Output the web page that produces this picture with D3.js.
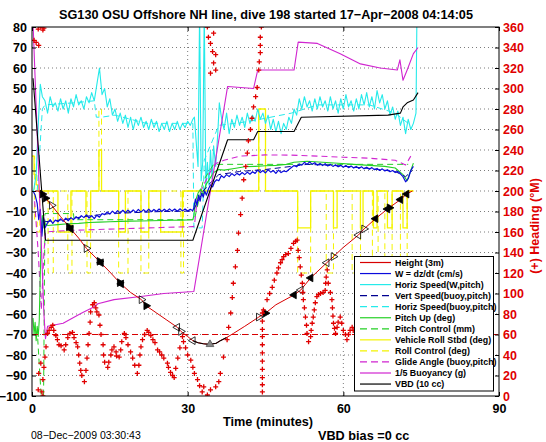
<!DOCTYPE html>
<html><head><meta charset="utf-8">
<script src="https://cdn.jsdelivr.net/npm/d3@7"></script>
<style>
body{margin:0;background:#fff}
svg{display:block}
text{font-family:"Liberation Sans",Arial,Helvetica,sans-serif}
</style>
</head><body>
<svg id="c" width="546" height="442"></svg>
<script>
// ---------- text / ticks ----------
const titleText = "SG130 OSU Offshore NH line, dive 198 started 17\u2212Apr\u22122008 04:14:05";
const xLabel = "Time (minutes)";
const yRightLabel = "(+) Heading (\u00B0M)";
const footerDate = "08\u2212Dec\u22122009 03:30:43";
const footerVbd = "VBD bias =0 cc";
const xTicks = [0, 30, 60, 90];
const yTicks = [-100,-90,-80,-70,-60,-50,-40,-30,-20,-10,0,10,20,30,40,50,60,70,80];
const hTicks = [0,20,40,60,80,100,120,140,160,180,200,220,240,260,280,300,320,340,360];
const legendNames = ["Height (3m)","W = dz/dt (cm/s)","Horiz Speed(W,pitch)","Vert Speed(buoy,pitch)",
  "Horiz Speed(buoy,pitch)","Pitch Up (deg)","Pitch Control (mm)","Vehicle Roll Stbd (deg)",
  "Roll Control (deg)","Glide Angle (buoy,pitch)","1/5 Buoyancy (g)","VBD (10 cc)"];

// ---------- series ----------
// Height (3m)
const heightT = [0.6,1.2,2.0,2.6,3.8,5.5,7.3,9,10.5,13.1,15,17,19,21.1,22,24,26,28,28.7,30,31,32,33,34.2,35.5,36.3,37.5,38.8,41,43.7,45,47,50.5,51.8,53.7,56.8,58.1,60,62.9,64,66.2,68.7,71,72.2,73.3];
const heightV = [0,0,-1.5,-3.5,-7,-12.5,-18,-23,-28,-34.6,-39.5,-45,-49.5,-53,-56,-59.5,-63,-66.5,-68.5,-71,-73,-74,-74.5,-74.8,-74.3,-73,-71.5,-69.5,-66,-61.5,-59.6,-55.5,-50.7,-48.3,-42.4,-35,-32,-27.5,-21.5,-18.5,-13.5,-8.4,-4.2,-1.5,0];
const apogeeT = [31,32,33,34.2,35.5,36.3,37.5];
const apogeeV = [-73,-74,-74.5,-74.8,-74.3,-73,-71.5];
const markT = [2.0,2.6,3.8,7.1,7.5,10.5,13.0,13.3,16.9,17.2,21.1,22.0,28.0,28.7,31.0,34.3,43.7,45.0,50.5,51.8,53.7,56.8,58.1,62.9,64.0,66.2,68.5,68.9,71.0,72.2];
const markV = [-1.5,-3.5,-7,-17.5,-18.5,-28,-34.3,-35,-44.7,-45.3,-53,-56,-66.5,-68.5,-73,-74.8,-61.5,-59.6,-50.7,-48.3,-42.4,-35,-32,-21.5,-18.5,-13.5,-8.8,-8.2,-4.2,-1.5];
const markDir = ["r","r","r","r","l","r","r","l","r","l","r","r","l","r","l","u","r","r","l","l","l","l","r","l","r","l","l","r","l","l"];
const markFill = [1,1,0,1,1,0,1,1,1,1,0,1,0,0,0,2,0,1,1,0,1,0,0,0,0,1,1,1,1,1];
const targetDepth = -70;

// W = dz/dt
const wT = [0.2,0.6,1.0,1.3,1.6,1.9,2.2,2.5].concat(d3.range(3,31.01,0.5),
  [31.2,31.5,31.8,32.1,32.4,32.7,33,33.3,33.6,34,34.4,34.8,35.2,35.6], d3.range(36,73.51,0.5));
const wV = [0,-2,-6,-14,-9,-22,-13,-18,
  -15.5,-14,-15.8,-14.2,-15,-13.6,-14.8,-13.2,-14.5,-13,-14,-12.5,-13.6,-12,-13,-11.6,-13.2,-12,-13.5,-11.8,-12.8,-11,-11.5,-10.2,-11.3,-9.8,-11,-9.6,-10.8,-9.4,-10.6,-9.3,-10.5,-9.2,-10.4,-9,-10.3,-9.1,-10.2,-8.9,-10.1,-9,-10,-8.8,-10,-8.9,-9.9,-8.7,-9.8,-8.8,-9.9,-8.7,-9.7,-8.8,-9.8,-8.9,-9.6,
  -8,-4,-7,-2,-5,-1,-3,0,-2,1,3,2,4.5,5.5,
  5,7.5,6.5,8,7,8.5,7.5,8.6,7.8,9,8,9.2,8.2,9.4,8.6,10.2,9,10,8.8,10.4,9.2,10,8.6,10.2,9,9.8,9.4,10.5,11.5,12.4,11.8,13.2,12.6,14,13,14.2,13,13.8,12.6,13.4,12.4,13.3,12.2,13,12,12.8,11.8,12.6,11.6,12.4,11.4,12.2,11.2,12,11,11.8,10.8,11.6,10.6,11.4,10.4,11,10,10.8,9.8,10.4,9.4,10,9,9.6,8.4,7,4.5,6,10,12];

// Horiz Speed (W,pitch)
const hsT = [0.3,0.8,1.2,1.6,2.0].concat(d3.range(2.5,31.01,0.5),
  [31.3,31.7,32.0,32.3,32.6,32.9,33.2,33.5,33.8,34.1,34.4,34.7,35.0,35.4,35.8,36.1], d3.range(36.5,73.51,0.5), [74.0,74.2]);
const hsV = [0,8,32,52,46,
  44,38,46,41,43,39,45,40,44,38,45,41,47,42,44,40,46,43,48,44,52,60,47,50,41,45,37,40,34,38,33,37,31,36,30,35,32,36,31,34,30,35,31,34,29,33,30,34,29,33,30,34,30,33,31,34,32,35,
  36,22,12,88,5,14,88,1,14,3,20,6,22,12,28,43,
  36,30,38,28,35,31,37,32,36,31,38,33,37,34,40,35,38,33,37,30,35,29,34,28,33,30,36,33,40,37,45,40,46,41,44,39,45,40,46,41,44,39,46,40,44,38,45,40,47,41,44,39,45,40,47,42,48,41,46,40,49,43,47,40,44,37,41,35,39,32,36,28,35,30,33,
  38,90];

// Vert Speed (buoy,pitch)
const vsT = [2.5,6,10,15,20,25,31,32,33,34,36,40,45,50,53,58,65,70,72,73.3];
const vsV = [-15,-14,-12.5,-11,-10.5,-10,-9.8,-5,0,3,8,9.5,10.5,12,13,12.5,11,9.5,7,10];

// Horiz Speed (buoy,pitch)
const hbT = [1.0,2.0,2.5,8,12,12.4,13.4,16,22,31.0,31.2,32.8,33.2,36,42,50,55,65,70,72.5];
const hbV = [0,40,42,43,44,36,36,37,33,33,-18,-18,15,32,34,38,42,42,38,33];

// Pitch Up (deg)
const pitchT = [0.2,0.4,0.6,0.8,1.0,1.2,1.4,1.6,1.8,2.0,2.3,2.6,3,5,7,9,11,13,15,17,19,21,23,25,27,29,31,31.2,31.5,32,32.5,33,33.5,34,35,36,37,39,41,43,45,47,49,50.5,53,56,59,62,65,68,70,71.5,72.3,73,73.5];
const pitchV = [-62,-70,-64,-73,-66,-71,-63,-40,-20,-12,-18,-16,-16.8,-16.4,-16,-15.8,-15.4,-15.2,-15,-14.8,-14.7,-14.6,-14.5,-14.4,-14.3,-14.2,-14,-12,-5,-1,1,-2,3,5,9,10.5,10.2,11,11.8,12,12.3,12.5,13,14,14.5,14,13.5,13,12.5,12,11.2,8,5,10,13.6];

// Pitch Control (mm)
const pcT = [1.1,2.0,2.2,2.5,8,8.1,31,31.3,33,35,72,72.5];
const pcV = [-72,-110,-110,-11,-11,-14,-14,-14,5,13,13,13];

// Vehicle Roll Stbd (deg) - step
const rollT = [0,0.4,0.8,1.2,5,7.5,10.4,11.3,12.9,13.4,16.7,18,21,22.5,24.8,29,43.7,45,51.2,53.7,58.1,58.8,63.3,63.8,65.8,66.5,68.5,69.4,71.5,72.3,73.5];
const rollV = [17,8,3,0,-20,0,-20,0,20,0,-20,0,-20,0,-20,0,40,0,-18,0,-18,0,-18,0,-18,0,-18,0,-18,0,0];

// Roll Control (deg) - step
const rcT = [0,0.5,1.0,1.5,3.1,4.1,6.9,7.7,10.6,11.3,12.9,13.4,16.7,18.5,21,22.5,28.7,29.2,43.7,45,51.2,53.7,56.7,58.1,61.7,63.3,65.6,66.7,68,69.4,71,72.3,73.5];
const rcV = [17,-15,-20,0,-40,0,-40,0,-40,0,40,0,-40,0,-40,0,-40,0,40,0,-40,0,-40,0,-40,0,-40,0,-40,0,-40,0,0];

// Glide Angle (buoy,pitch)
const glideT = [0.5,1.2,1.8,2.3,2.6,5,10,15,20,25,31,31.3,31.8,32.5,33.5,34.5,35.5,37,40,45,50,55,60,65,70,72,73];
const glideV = [-5,-30,-58,-30,-20,-19.5,-19,-18.6,-18.2,-17.8,-17.4,-17,-5,0,5,10,13.5,15,17,17.6,17.5,17,16.5,16,15,12.7,17];

// 1/5 Buoyancy (g)
const buoyT = [0.2,2.3,2.6,3.0,6,9.5,12,12.7,15.8,21,25.4,31.2,37.7,42.7,43.5,50.5,51.3,55,59.4,63.3,67.1,70.4,70.9,71.5,72.3,73.5,74.4];
const buoyV = [82,-60,-72,-66,-64.5,-59.6,-56.5,-55,-53,-51.5,-50,-49,51,50,59,59,72.6,72,67,62,60,59,64,54,59,67,70];

// VBD (10 cc)
const vbdT = [0.2,2.6,31.0,37.7,42.7,43.5,50.5,51.9,68.6,71,71.5,72.3,73.5,74.4];
const vbdV = [55,-24,-24,25,25,29,29,36,37,38,41,43,44.4,48];

// Heading (deg, right axis)
const hdT = [0.4,0.8,1.3,1.2,1.7,2.1,2.3,1.7,1.3,2.1,1.2,2.1,1.9,2.3,2.5,2.7,3.0,3.3,3.7,4.0,4.2,4.6,4.9,5.2,5.6,6.2,6.5,6.9,7.3,7.8,8.1,8.5,8.8,9.0,9.2,9.4,9.6,10.1,10.4,10.6,10.8,11.0,11.2,11.3,11.7,12.0,12.3,12.5,12.9,13.1,13.3,13.7,13.8,14.0,14.6,14.8,15.2,15.4,15.8,16.2,16.3,16.8,17.1,17.3,17.8,18.1,18.5,19.0,19.4,19.8,20.3,20.6,20.8,21.0,21.3,21.7,22.2,22.5,22.9,23.3,23.7,24.2,24.6,25.0,25.4,26.1,26.3,26.7,27.1,27.4,27.7,28.1,28.5,29.0,29.2,29.6,30.0,30.6,31.0,31.3,31.9,32.3,32.8,33.1,33.8,34.4,35.4,36.0,
  33.8,34.0,34.4,34.8,35.0,35.4,35.0,34.4,35.4,
  36.3,36.9,37.6,37.9,38.3,38.6,38.8,39.2,39.6,39.8,40.2,40.5,40.8,41.2,41.5,41.7,42.1,42.4,42.7,43.1,43.4,43.7,43.8,44.0,44.0,44.0,44.2,
  44.4,44.4,44.4,44.4,44.4,44.4,44.4,44.4,44.4,44.4,44.4,
  44.6,45.3,45.8,46.3,46.7,47.2,47.5,47.9,48.2,48.5,48.9,49.4,49.9,50.4,50.8,51.1,
  51.3,51.5,51.7,51.9,52.1,52.2,52.3,52.5,52.7,52.9,53.0,53.3,53.7,53.8,54.0,54.2,54.4,54.6,54.9,55.2,55.6,56.1,56.5,56.6,56.7,56.9,57.1,57.5,57.8,57.9,58.0,58.1,58.3,58.5,58.8,59.0,59.4,59.7,60.0,60.4,60.7,61.0,61.3,61.7,61.9];
const hdV = [347,345,342,358,360,357,359,32,22,16,6,0,4,28,38,48,61,64,67,69,64,59,55,50,49,45,50,57,61,62,57,52,48,40,32,25,20,14,25,37,50,61,72,82,89,91,86,82,79,69,60,50,40,33,28,33,40,45,48,43,39,38,45,53,61,57,50,43,37,30,22,30,40,48,55,60,64,62,59,55,52,45,43,40,37,32,28,23,20,18,27,37,47,58,53,47,40,35,28,22,16,10,4,9,1,6,9,14,
  360,350,344,336,354,333,325,315,318,
  22,38,55,67,81,96,110,126,142,159,177,193,211,224,237,249,260,271,282,292,301,318,326,335,342,350,360,
  81,73,65,58,50,42,34,26,18,11,4,
  84,94,100,106,113,120,125,130,133,136,138,139,144,149,151,152,
  142,135,126,118,110,101,94,86,77,69,61,53,58,64,71,77,84,91,97,99,100,101,103,110,116,123,110,101,94,86,78,71,66,61,67,72,77,71,64,60,55,60,64,67,64];

const zip = (t, v) => t.map((d, i) => [d, v[i]]).filter(p => p[1] !== undefined);

// ---------- drawing ----------
const svg = d3.select("#c");
const L = 32, R = 499, T = 27, B = 396;
const x = d3.scaleLinear().domain([0, 90]).range([L, R]);
const y = d3.scaleLinear().domain([-100, 80]).range([B, T]);
const yr = d3.scaleLinear().domain([0, 360]).range([B, T]);

svg.append("rect").attr("width", 546).attr("height", 442).attr("fill", "#fff");
svg.append("defs").append("clipPath").attr("id", "clip")
  .append("rect").attr("x", L).attr("y", T).attr("width", R - L).attr("height", B - T);

// grid
const grid = svg.append("g").attr("stroke", "#444").attr("stroke-width", 0.7).attr("stroke-dasharray", "1,3");
yTicks.slice(1, -1).forEach(v => grid.append("line").attr("x1", L).attr("x2", R).attr("y1", y(v)).attr("y2", y(v)));
xTicks.slice(1, -1).forEach(v => grid.append("line").attr("x1", x(v)).attr("x2", x(v)).attr("y1", T).attr("y2", B));

const plot = svg.append("g").attr("clip-path", "url(#clip)");
const line = d3.line().x(d => x(d[0])).y(d => y(d[1]));
const lineStep = d3.line().x(d => x(d[0])).y(d => y(d[1])).curve(d3.curveStepAfter);

function draw(data, color, w, dash, gen) {
  plot.append("path").datum(data).attr("d", (gen || line))
    .attr("fill", "none").attr("stroke", color).attr("stroke-width", w)
    .attr("stroke-dasharray", dash || null).attr("stroke-linejoin", "round");
}
const C = {red:"#d80000", blue:"#0a0adc", navy:"#000090", cyan:"#25eaea", green:"#25d025",
  yellow:"#f4f400", magenta:"#d025d0", black:"#000"};
const DASH = "6,4";

draw(zip(rcT, rcV), C.yellow, 1, DASH, lineStep);
draw(zip(rollT, rollV), C.yellow, 1.3, null, lineStep);
draw(zip(hbT, hbV), C.cyan, 1, DASH);
draw(zip(hsT, hsV), C.cyan, 1.1);
draw(zip(pcT, pcV), C.green, 1, DASH);
draw(zip(glideT, glideV), C.magenta, 1.1, DASH);
draw(zip(pitchT, pitchV), C.green, 1.1);
draw(zip(vsT, vsV), C.navy, 1, DASH);
draw(zip(wT, wV), C.blue, 1.2);
draw(zip(buoyT, buoyV), C.magenta, 1.1);
draw(zip(vbdT, vbdV), C.black, 1.1);
// target depth
plot.append("line").attr("x1", x(0)).attr("x2", x(90)).attr("y1", y(targetDepth)).attr("y2", y(targetDepth))
  .attr("stroke", C.red).attr("stroke-width", 1).attr("stroke-dasharray", DASH);
draw(zip(heightT, heightV), C.red, 1);
draw(zip(apogeeT, apogeeV), C.black, 1.1);
// markers
const tri = d3.symbol().type(d3.symbolTriangle).size(26);
zip(markT, markV).forEach((p, i) => {
  const rot = markDir[i] === "r" ? 90 : markDir[i] === "l" ? -90 : 0;
  const f = markFill[i];
  plot.append("path").attr("d", tri())
    .attr("transform", `translate(${x(p[0])},${y(p[1])}) rotate(${rot})`)
    .attr("fill", f === 1 ? "#000" : f === 2 ? "#888" : "none")
    .attr("stroke", f === 2 ? "#555" : "#000").attr("stroke-width", 0.8);
});
// heading crosses
const hg = plot.append("g").attr("stroke", "#e00000").attr("stroke-width", 1.3);
zip(hdT, hdV).forEach(p => {
  hg.append("path").attr("d", "M-2.5,0H2.5M0,-2.5V2.5").attr("transform", `translate(${x(p[0])},${yr(p[1])})`);
});

// frame
svg.append("rect").attr("x", L).attr("y", T).attr("width", R - L).attr("height", B - T)
  .attr("fill", "none").attr("stroke", "#000").attr("stroke-width", 1);

// axes
function styleAxis(g, color) {
  g.select(".domain").remove();
  g.selectAll("line").attr("stroke", "#000");
  g.selectAll("text").attr("fill", color).style("font-size", "12.5px").style("font-weight", "bold")
    .style("font-family", '"Liberation Sans",Arial,sans-serif');
}
svg.append("g").attr("transform", `translate(${L},0)`)
  .call(d3.axisLeft(y).tickValues(yTicks).tickSize(-4).tickPadding(5).tickFormat(d3.format("d")))
  .call(g => styleAxis(g, "#000"));
svg.append("g").attr("transform", `translate(${R},0)`)
  .call(d3.axisRight(yr).tickValues(hTicks).tickSize(-4).tickPadding(4).tickFormat(d3.format("d")))
  .call(g => styleAxis(g, "#e00000"));
svg.append("g").attr("transform", `translate(0,${B})`)
  .call(d3.axisBottom(x).tickValues(xTicks).tickSize(-4).tickPadding(8).tickFormat(d3.format("d")))
  .call(g => styleAxis(g, "#000"));
svg.append("g").attr("transform", `translate(0,${T})`)
  .call(d3.axisTop(x).tickValues(xTicks).tickSize(-4).tickFormat(""))
  .call(g => styleAxis(g, "#000"));

// legend
const legStyles = [
  [C.red, null],[C.blue, null],[C.cyan, null],[C.navy, DASH],[C.cyan, DASH],[C.green, null],
  [C.green, DASH],[C.yellow, null],[C.yellow, DASH],[C.magenta, DASH],[C.magenta, null],[C.black, null]];
const lg = svg.append("g");
lg.append("rect").attr("x", 354.5).attr("y", 256.5).attr("width", 139).attr("height", 134.5)
  .attr("fill", "#fff").attr("stroke", "#000").attr("stroke-width", 1);
legendNames.forEach((n, i) => {
  const yy = 262.5 + i * 11.05;
  lg.append("line").attr("x1", 360).attr("x2", 391).attr("y1", yy).attr("y2", yy)
    .attr("stroke", legStyles[i][0]).attr("stroke-width", 1.2).attr("stroke-dasharray", legStyles[i][1] ? "7,4" : null);
  lg.append("text").attr("x", 395).attr("y", yy + 3.2).text(n)
    .style("font-size", "8.9px").style("font-weight", "bold");
});

// titles
svg.append("text").attr("x", 266).attr("y", 19).attr("text-anchor", "middle")
  .style("font-size", "12.7px").style("font-weight", "bold").text(titleText);
svg.append("text").attr("x", 268).attr("y", 426).attr("text-anchor", "middle")
  .style("font-size", "12.7px").style("font-weight", "bold").text(xLabel);
svg.append("text").attr("transform", "translate(539,226) rotate(-90)").attr("text-anchor", "middle")
  .attr("fill", "#e00000").style("font-size", "12.5px").style("font-weight", "bold").text(yRightLabel);
svg.append("text").attr("x", 31).attr("y", 439).style("font-size", "10.5px").text(footerDate);
svg.append("text").attr("x", 318).attr("y", 440).style("font-size", "12.7px").style("font-weight", "bold").text(footerVbd);
</script>
</body></html>
